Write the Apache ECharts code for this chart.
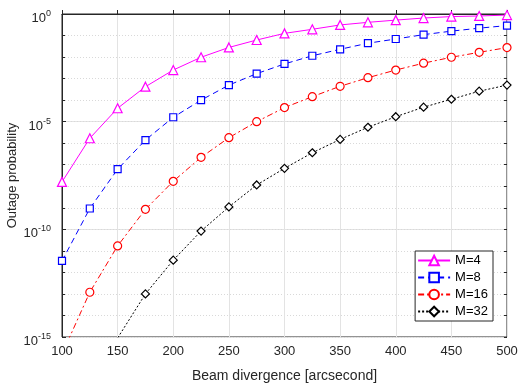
<!DOCTYPE html>
<html><head><meta charset="utf-8">
<script src="https://cdn.jsdelivr.net/npm/echarts@6/dist/echarts.min.js"></script>
<style>html,body{margin:0;padding:0;background:#fff}#c{width:520px;height:389px}</style>
</head><body><div id="c"></div>
<script>
const beamDivergence = [100,125,150,175,200,225,250,275,300,325,350,375,400,425,450,475,500];
const seriesNames = ['M=4','M=8','M=16','M=32'];
const outageM4  = [1.6e-8,1.7e-6,4.2e-5,4.2e-4,2.5e-3,9.8e-3,2.8e-2,6.2e-2,0.126,0.195,0.31,0.41,0.52,0.65,0.76,0.81,0.89];
const outageM8  = [3.4e-12,9.3e-10,6.2e-8,1.4e-6,1.6e-5,1.0e-4,5.0e-4,1.7e-3,4.8e-3,1.15e-2,2.3e-2,4.4e-2,6.9e-2,0.11,0.16,0.22,0.29];
const outageM16 = [1.6e-16,1.2e-13,1.7e-11,8.5e-10,1.7e-8,2.2e-7,1.8e-6,1.0e-5,4.5e-5,1.45e-4,4.4e-4,1.1e-3,2.5e-3,5.2e-3,9.8e-3,1.66e-2,2.75e-2];
const outageM32 = [1e-21,1.3e-18,9e-16,1.0e-13,3.7e-12,8.3e-11,1.1e-9,1.15e-8,6.8e-8,3.6e-7,1.5e-6,5.5e-6,1.7e-5,4.7e-5,1.1e-4,2.6e-4,5.0e-4];
const xTicks = [100,150,200,250,300,350,400,450,500];
const yTickExponents = [0,-5,-10,-15];

const FONT = 'Liberation Sans, Arial, sans-serif';
const TXT = '#262626';
const colors = ['#ff00ff','#0000ff','#ff0000','#000000'];
const symbols = ['triangle','rect','circle','diamond'];
const symSizes = [9,7,8,8];
const dashes = ['solid',[6,4],[6,3,2,3],[2,2]];
const allData = [outageM4,outageM8,outageM16,outageM32];

const chart = echarts.init(document.getElementById('c'), null, {renderer:'canvas'});
const series = seriesNames.map((n,i)=>({
  name:n, type:'line', xAxisIndex:0, yAxisIndex:0,
  data: beamDivergence.map((x,j)=>[x, allData[i][j]]),
  symbol:symbols[i], symbolSize:symSizes[i], showAllSymbol:true, clip:true,
  lineStyle:{color:colors[i], width:1, type:dashes[i]},
  itemStyle:{color:'#fff', borderColor:colors[i], borderWidth:1.2},
  emphasis:{disabled:true}, animation:false, z:3+i
}));
series.push({type:'line', xAxisIndex:0, yAxisIndex:1, data:[], silent:true});

chart.setOption({
  animation:false,
  textStyle:{fontFamily:FONT},
  grid:{left:62, right:13, top:14, bottom:52, containLabel:false, outerBoundsMode:'none',
        show:true, borderColor:'#262626', borderWidth:1, backgroundColor:'transparent'},
  legend:{
    data:seriesNames, orient:'vertical', right:27, bottom:68,
    itemWidth:32, itemHeight:12, itemGap:4,
    backgroundColor:'#fff', borderColor:'#262626', borderWidth:1, padding:[3,5,3,2],
    textStyle:{fontFamily:FONT, fontSize:13, color:'#000'},
    selectedMode:false
  },
  xAxis:[{
    type:'value', min:100, max:500, interval:50,
    name:'Beam divergence [arcsecond]', nameLocation:'middle', nameGap:32, nameMoveOverlap:false,
    nameTextStyle:{fontFamily:FONT, fontSize:14, color:TXT},
    axisLine:{show:true, lineStyle:{color:'#262626'}},
    axisTick:{show:true, inside:true, length:4, lineStyle:{color:'#262626'}},
    axisLabel:{fontFamily:FONT, fontSize:13, color:TXT, margin:8},
    splitLine:{show:true, lineStyle:{color:'#e3e3e3', width:1}}
  }],
  yAxis:[{
    type:'log', logBase:10, min:1e-15, max:1, interval:5,
    name:'Outage probability', nameLocation:'middle', nameGap:43, nameMoveOverlap:false,
    nameTextStyle:{fontFamily:FONT, fontSize:13, color:TXT},
    axisLine:{show:true, lineStyle:{color:'#262626'}},
    axisTick:{show:true, inside:true, length:4, lineStyle:{color:'#262626'}},
    axisLabel:{
      margin:11, padding:[6,0,0,0],
      formatter:function(v){
        const e = Math.round(Math.log10(v));
        if (yTickExponents.indexOf(e) < 0) return '';
        return '{b|10}{s|' + e + '}';
      },
      rich:{
        b:{fontFamily:FONT, fontSize:13, color:TXT, verticalAlign:'bottom', lineHeight:16},
        s:{fontFamily:FONT, fontSize:9, color:TXT, verticalAlign:'top', lineHeight:16}
      }
    },
    splitLine:{show:true, lineStyle:{color:'#e3e3e3', width:1}}
  },{
    type:'value', min:-15, max:0, interval:1, position:'left',
    axisLine:{show:false}, axisLabel:{show:false},
    axisTick:{show:true, inside:true, length:3, lineStyle:{color:'#262626'}},
    splitLine:{show:true, lineStyle:{color:'#d9d9d9', width:1, type:[1,2]}}
  },{
    type:'value', min:-15, max:0, interval:1, position:'right',
    axisLine:{show:false}, axisLabel:{show:false},
    axisTick:{show:true, inside:true, length:3, lineStyle:{color:'#262626'}},
    splitLine:{show:false}
  }],
  series:series
});
</script></body></html>
